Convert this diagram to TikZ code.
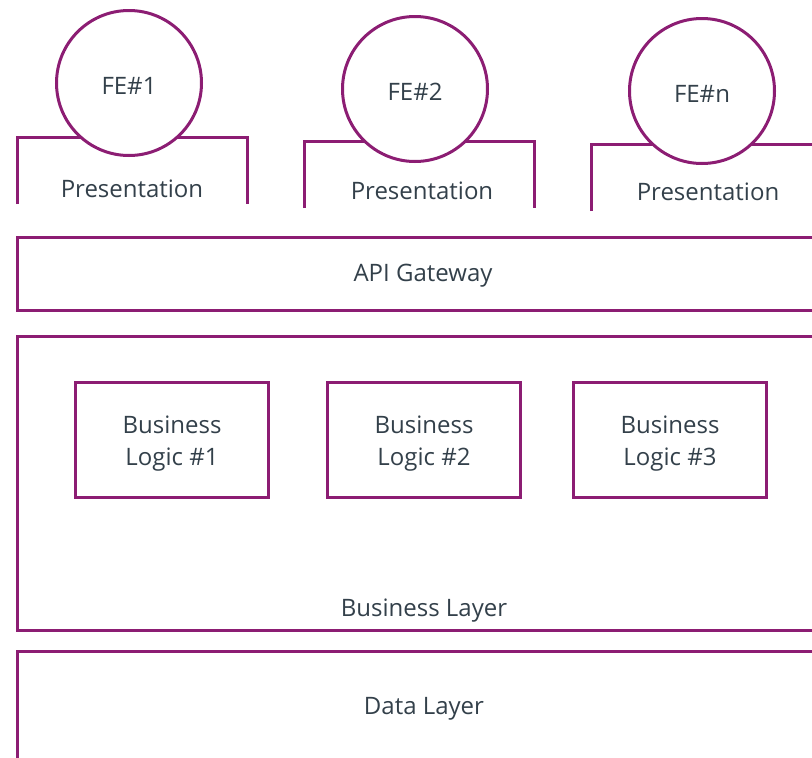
\documentclass[tikz,border=0pt]{standalone}
\usepackage{fontspec}
\setmainfont{Open Sans}
\definecolor{plum}{HTML}{8C1D73}
\definecolor{ink}{HTML}{33404A}
\begin{document}
\begin{tikzpicture}[x=1pt,y=-1pt,
  edge/.style={draw=plum,line width=3pt},
  label/.style={text=ink,font=\fontsize{24}{32}\selectfont,inner sep=0pt,align=center},
  fe/.style={circle,draw=plum,line width=3pt,fill=white,minimum size=145pt,inner sep=0pt},
  logic/.style={rectangle,draw=plum,line width=2.5pt,minimum width=193pt,
    minimum height=115pt}]
\useasboundingbox (0,0) rectangle (812,758);
\clip (0,0) rectangle (812,758);

% presentation frames, open at the bottom
\draw[edge] (17,204) -- (17,137) -- (247,137) -- (247,204);
\draw[edge] (304,208) -- (304,141) -- (534,141) -- (534,208);
\draw[edge] (591,211) -- (591,144) -- (830,144);
\node[label] (p1) at (132,189) {Presentation};
\node[label] (p2) at (422,191) {Presentation};
\node[label] (p3) at (708,192) {Presentation};

% front-end circles
\node[fe] (fe1) at (129,83) {};
\node[fe] (fe2) at (415,89) {};
\node[fe] (fen) at (702,91) {};
\node[label,yshift=-3pt] (fe1t) at (fe1.center) {FE\#1};
\node[label,yshift=-3pt] (fe2t) at (fe2.center) {FE\#2};
\node[label,yshift=-3pt] (fent) at (fen.center) {FE\#n};

% API gateway
\draw[edge] (830,237) -- (17,237) -- (17,310) -- (830,310);
\node[label] (api) at (423,276) {API Gateway};

% business layer
\draw[edge] (830,336) -- (17,336) -- (17,630) -- (830,630);
\node[label] (bl) at (424,611) {Business Layer};
\node[logic] (b1) at (172,440) {};
\node[logic] (b2) at (424,440) {};
\node[logic] (b3) at (670,440) {};
\node[label,yshift=-4pt] (b1t) at (b1.center) {Business\\Logic \#1};
\node[label,yshift=-4pt] (b2t) at (b2.center) {Business\\Logic \#2};
\node[label,yshift=-4pt] (b3t) at (b3.center) {Business\\Logic \#3};

% data layer
\draw[edge] (830,651) -- (17,651) -- (17,780);
\node[label] (dl) at (424,709) {Data Layer};
\end{tikzpicture}
\end{document}
